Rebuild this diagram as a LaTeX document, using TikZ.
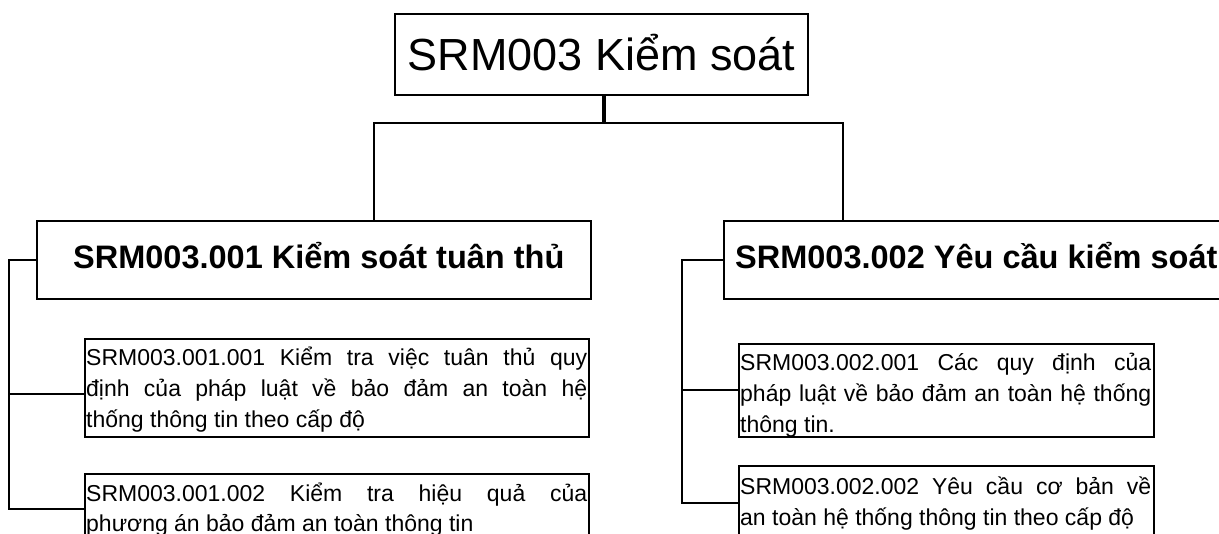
\documentclass[tikz,border=0pt]{standalone}
\usepackage{fontspec}
\setmainfont{Liberation Sans}
\usetikzlibrary{calc}
\tikzset{
  box/.style={draw=black, line width=1.8pt, rectangle, inner sep=0pt, anchor=north west},
  conn/.style={draw=black, line width=1.8pt},
  stemline/.style={draw=black, line width=4pt},
  small/.style={anchor=base west, inner sep=0pt, font=\fontsize{23}{31}\selectfont},
  head/.style={anchor=base west, inner sep=0pt, font=\fontsize{32.5}{40}\selectfont\bfseries},
}
\newcommand{\jl}[1]{\makebox[\linewidth][s]{#1}\par}
\begin{document}
\begin{tikzpicture}[x=1pt,y=1pt]
\useasboundingbox[fill=white] (0,0) rectangle (1219,-534);
% boxes
\node[box, minimum width=413, minimum height=81, text height=32, text depth=0,
      font=\fontsize{45}{54}\selectfont] (T) at (394,-13) {SRM003 Kiểm soát};
\node[box, minimum width=554, minimum height=78] (A) at (36,-220) {};
\node[box, minimum width=540, minimum height=78] (B) at (723,-220) {};
\node[box, minimum width=504, minimum height=98] (A1) at (84,-338) {};
\node[box, minimum width=504, minimum height=70] (A2) at (84,-473) {};
\node[box, minimum width=415, minimum height=93] (B1) at (738,-343) {};
\node[box, minimum width=415, minimum height=74] (B2) at (738,-465) {};
% texts
\node[head] (tA) at ([shift={(37,-49)}]A.north west) {SRM003.001 Kiểm soát tuân thủ};
\node[head] (tB) at ([shift={(12,-49)}]B.north west) {SRM003.002 Yêu cầu kiểm soát};
\node[small] (tA1) at ([shift={(2,-28)}]A1.north west) {\parbox[t]{501pt}{\raggedright
  \jl{SRM003.001.001 Kiểm tra việc tuân thủ quy}
  \jl{định của pháp luật về bảo đảm an toàn hệ}
  thống thông tin theo cấp độ}};
\node[small] (tA2) at ([shift={(2,-28)}]A2.north west) {\parbox[t]{501pt}{\raggedright
  \jl{SRM003.001.002 Kiểm tra hiệu quả của}
  phương án bảo đảm an toàn thông tin}};
\node[small] (tB1) at ([shift={(2,-28)}]B1.north west) {\parbox[t]{411pt}{\raggedright
  \jl{SRM003.002.001 Các quy định của}
  \jl{pháp luật về bảo đảm an toàn hệ thống}
  thông tin.}};
\node[small] (tB2) at ([shift={(2,-30)}]B2.north west) {\parbox[t]{411pt}{\raggedright
  \jl{SRM003.002.002 Yêu cầu cơ bản về}
  an toàn hệ thống thông tin theo cấp độ}};
% connectors
\draw[stemline] ([xshift=2.5]T.south) -- ++(0,-27) coordinate (J);
\draw[conn] (J) -| ([xshift=60]A.north);
\draw[conn] (J) -| ([xshift=120]B.north west);
\draw[conn] (A.west) -- ++(-27,0) coordinate (bA) |- (A2.west);
\draw[conn] (bA) |- ([yshift=-6]A1.west);
\draw[conn] (B.west) -- ++(-41,0) coordinate (bB) |- (B2.west);
\draw[conn] (bB) |- (B1.west);
\end{tikzpicture}
\end{document}
